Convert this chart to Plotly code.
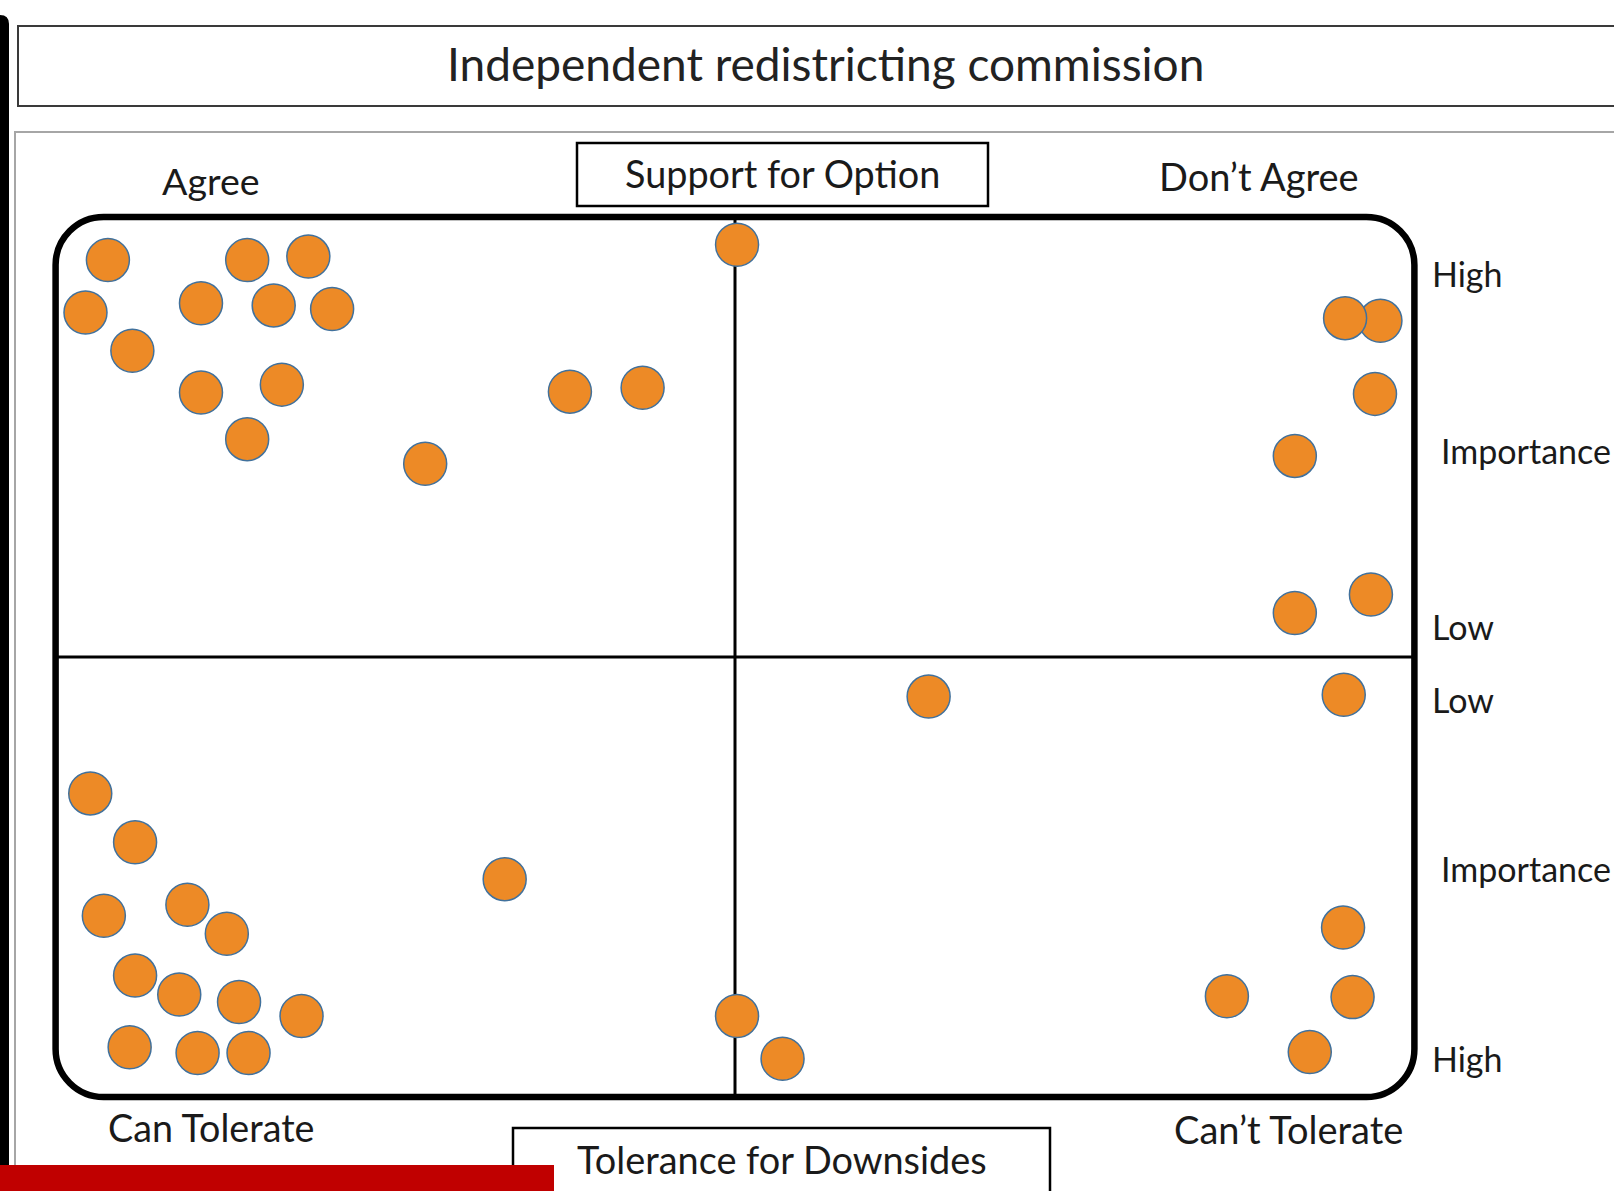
import plotly.graph_objects as go

# ---------------- data ----------------
# Upper panel: "Support for Option" (x: -10 Agree ... +10 Don't Agree),
# importance: 0 = Low (middle line) ... 10 = High (top)
support_x = [-9.23, -7.18, -6.28, -9.56, -7.86, -6.79, -5.93, -8.87, -7.86, -6.67,
             -7.18, -4.56, -2.43, -1.36, 0.03, 9.50, 8.98, 9.42, 8.24, 9.36, 8.24]
support_importance = [9.02, 9.02, 9.10, 7.83, 8.04, 7.99, 7.91, 6.96, 6.01, 6.19,
                      4.95, 4.39, 6.03, 6.12, 9.37, 7.64, 7.70, 5.98, 4.57, 1.42, 1.00]

# Lower panel: "Tolerance for Downsides" (x: -10 Can Tolerate ... +10 Can't Tolerate),
# importance: 0 = Low (middle line) ... 10 = High (bottom)
tolerance_x = [-9.49, -8.83, -9.29, -8.06, -7.48, -8.83, -8.18, -7.30, -6.38, -8.91,
               -7.91, -7.16, -3.39, 0.03, 0.70, 2.85, 8.96, 8.95, 7.24, 9.09, 8.46]
tolerance_importance = [3.10, 4.21, 5.88, 5.63, 6.29, 7.24, 7.67, 7.84, 8.16, 8.87,
                        9.00, 9.00, 5.05, 8.16, 9.13, 0.90, 0.86, 6.15, 7.71, 7.73, 8.98]

title_text = "Independent redistricting commission"
top_box_label = "Support for Option"
bottom_box_label = "Tolerance for Downsides"
top_left_label, top_right_label = "Agree", "Don\u2019t Agree"
bottom_left_label, bottom_right_label = "Can Tolerate", "Can\u2019t Tolerate"
right_labels = ["High", "Importance", "Low", "Low", "Importance", "High"]

# ---------------- layout geometry ----------------
FW, FH = 1614, 1191
L, T, W, H = 22, 182, 1426, 950
XR = 713 / 67.94
YR = 475 / 44.0

def px_x(p):
    return (p - L) / W

def px_y(p):
    return (T + H - p) / H

FONT = "Lato, 'Open Sans', sans-serif"
ORANGE = "#ED8A26"
OUTLINE = "#41719C"

fig = go.Figure()

fig.add_trace(go.Scatter(
    x=support_x, y=support_importance, mode="markers",
    marker=dict(size=43, color=ORANGE, line=dict(color=OUTLINE, width=1.5)),
    hoverinfo="skip", cliponaxis=False))
fig.add_trace(go.Scatter(
    x=tolerance_x, y=[-v for v in tolerance_importance], mode="markers",
    marker=dict(size=43, color=ORANGE, line=dict(color=OUTLINE, width=1.5)),
    hoverinfo="skip", cliponaxis=False))

shapes = []

# rounded quadrant frame (data coordinates)
rx, ry, k = 48 / 67.94, 48 / 44.0, 0.5523
def corner(x0, y0, cx, cy, x1, y1):
    c1 = (x0 + k * (cx - x0), y0 + k * (cy - y0))
    c2 = (x1 + k * (cx - x1), y1 + k * (cy - y1))
    return f" C {c1[0]},{c1[1]} {c2[0]},{c2[1]} {x1},{y1}"
p = f"M {-10 + rx},10 L {10 - rx},10"
p += corner(10 - rx, 10, 10, 10, 10, 10 - ry)
p += f" L 10,{-10 + ry}"
p += corner(10, -10 + ry, 10, -10, 10 - rx, -10)
p += f" L {-10 + rx},-10"
p += corner(-10 + rx, -10, -10, -10, -10, -10 + ry)
p += f" L -10,{10 - ry}"
p += corner(-10, 10 - ry, -10, 10, -10 + rx, 10)
p += " Z"

shapes.append(dict(type="line", xref="x", yref="y", x0=0, x1=0, y0=-10, y1=10,
                   line=dict(color="black", width=3), layer="below"))
shapes.append(dict(type="line", xref="x", yref="y", x0=-10, x1=10, y0=0, y1=0,
                   line=dict(color="black", width=3), layer="below"))
shapes.append(dict(type="path", xref="x", yref="y", path=p,
                   line=dict(color="black", width=6.5), layer="below"))

def prect(x0, y0, x1, y1, color, width, fill="rgba(0,0,0,0)"):
    return dict(type="rect", xref="paper", yref="paper",
                x0=px_x(x0), x1=px_x(x1), y0=px_y(y1), y1=px_y(y0),
                line=dict(color=color, width=width), fillcolor=fill, layer="above")

# slide panel (light grey) and title box
shapes.append(prect(15, 132, 1700, 1300, "#A6A6A6", 2))
shapes.append(prect(18, 26, 1700, 106, "#3A3A3A", 2))
# label boxes
shapes.append(prect(577, 143, 988, 206, "black", 2.5, "white"))
shapes.append(prect(513, 1128, 1050, 1300, "black", 2.5, "white"))
# black left edge bar with rounded top
bx0, bx1, by0 = px_x(-5), px_x(9), px_y(15)
rr_x, rr_y = 9 / W, 9 / H
lp = (f"M {bx0},{px_y(1200)} L {bx0},{by0} L {bx1 - rr_x},{by0} "
      f"Q {bx1},{by0} {bx1},{by0 - rr_y} L {bx1},{px_y(1200)} Z")
shapes.append(dict(type="path", xref="paper", yref="paper", path=lp,
                   line=dict(color="black", width=0), fillcolor="black", layer="above"))
# red footer bar (on top of the black edge bar)
shapes.append(prect(-5, 1165, 554, 1200, "#C00000", 0, "#C00000"))

annotations = []
def text(s, x, y, size, xanchor="center", color="#1A1A1A"):
    annotations.append(dict(text=s, x=px_x(x), y=px_y(y), xref="paper", yref="paper",
                            showarrow=False, xanchor=xanchor, yanchor="middle",
                            font=dict(family=FONT, size=size, color=color)))

text(title_text, 825, 64, 46, color="#222222")
text(top_box_label, 782, 173, 37.8)
text(top_left_label, 211, 181, 37.6)
text(top_right_label, 1259, 176, 38)
text(bottom_left_label, 211, 1127, 37.7)
text(bottom_right_label, 1288, 1129, 38)
text(bottom_box_label, 782, 1159, 37.9)

right_y = [274, 450, 626, 699, 868, 1058]
right_x = [1430, 1439, 1430, 1430, 1439, 1430]
for s, xx, yy in zip(right_labels, right_x, right_y):
    text(s, xx, yy, 34, xanchor="left")

fig.update_layout(
    width=FW, height=FH,
    margin=dict(l=L, r=FW - L - W, t=T, b=FH - T - H, pad=0),
    paper_bgcolor="white", plot_bgcolor="white",
    showlegend=False,
    xaxis=dict(range=[-XR, XR], visible=False, fixedrange=True),
    yaxis=dict(range=[-YR, YR], visible=False, fixedrange=True),
    shapes=shapes, annotations=annotations,
)

fig.write_html("out.html", config={"displayModeBar": False},
               post_script="document.body.style.margin='0';document.body.style.overflow='hidden';")
